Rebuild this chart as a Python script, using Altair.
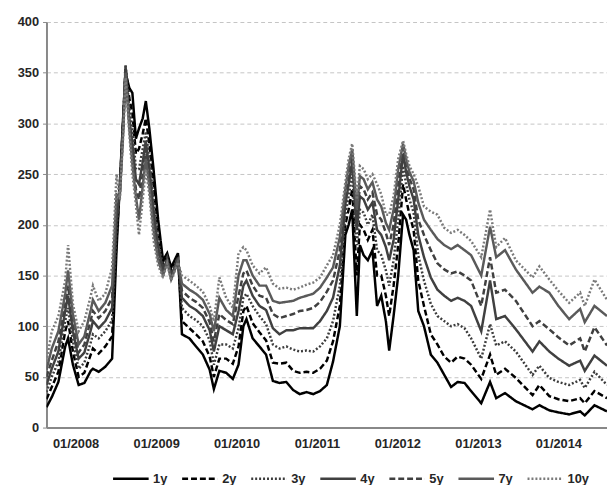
import altair as alt
import pandas as pd

dates = [
    "2007-08-22", "2007-09-15", "2007-10-15", "2007-11-15", "2007-11-28", "2007-12-20",
    "2008-01-15", "2008-02-10", "2008-03-10", "2008-03-20", "2008-04-15", "2008-05-15",
    "2008-06-15", "2008-07-05", "2008-07-20", "2008-08-05", "2008-08-15", "2008-09-01",
    "2008-09-15", "2008-10-01", "2008-10-15", "2008-11-01", "2008-11-15", "2008-12-01",
    "2008-12-20", "2009-01-10", "2009-02-01", "2009-02-20", "2009-03-10", "2009-04-10",
    "2009-04-28", "2009-06-01", "2009-07-01", "2009-08-01", "2009-09-01", "2009-09-20",
    "2009-10-15", "2009-11-15", "2009-12-15", "2010-01-10", "2010-02-01", "2010-02-15",
    "2010-03-15", "2010-04-15", "2010-05-15", "2010-06-15", "2010-07-15", "2010-08-15",
    "2010-09-15", "2010-10-15", "2010-11-15", "2010-12-15", "2011-01-15", "2011-02-15",
    "2011-03-15", "2011-04-15", "2011-05-10", "2011-05-25", "2011-06-10", "2011-07-01",
    "2011-07-15", "2011-08-01", "2011-08-20", "2011-09-10", "2011-10-01", "2011-10-20",
    "2011-11-10", "2011-11-25", "2011-12-15", "2012-01-05", "2012-01-27", "2012-02-10",
    "2012-02-25", "2012-03-15", "2012-04-05", "2012-05-01", "2012-06-01", "2012-07-01",
    "2012-08-01", "2012-09-01", "2012-10-01", "2012-11-01", "2012-12-01", "2013-01-16",
    "2013-02-25", "2013-03-25", "2013-05-04", "2013-06-22", "2013-09-06", "2013-10-07",
    "2013-11-21", "2014-01-01", "2014-02-19", "2014-04-10", "2014-05-01", "2014-06-14",
    "2014-08-10",
]

s1y = [20, 30, 45, 80, 88, 62, 42, 44, 56, 58, 55, 60, 68, 175, 240, 310, 350, 335, 330, 285,
       295, 305, 322, 295, 255, 205, 165, 172, 158, 172, 92, 88, 80, 72, 57, 38, 56, 54, 48, 62,
       100, 107, 88, 80, 72, 46, 44, 45, 37, 33, 35, 33, 36, 42, 65, 100, 190, 200, 215, 110,
       180, 170, 165, 175, 120, 130, 105, 76, 110, 150, 210, 205, 190, 175, 115, 100, 72, 64, 52, 40,
       45, 44, 36, 24, 45, 29, 34, 26, 18, 22, 17, 15, 13, 16, 12, 22, 16]
s2y = [28, 40, 55, 95, 105, 75, 50, 54, 72, 78, 73, 80, 90, 185, 238, 308, 355, 325, 310, 270,
       275, 290, 305, 280, 240, 195, 160, 170, 155, 170, 105, 98, 92, 85, 70, 50, 68, 68, 63, 80,
       115, 120, 103, 94, 86, 64, 63, 64, 56, 54, 55, 54, 58, 66, 85, 120, 200, 215, 235, 150,
       200, 195, 185, 195, 150, 150, 130, 110, 140, 180, 240, 225, 210, 195, 145, 120, 92, 82, 70, 64,
       70, 68, 62, 48, 72, 52, 58, 49, 32, 42, 31, 28, 26, 29, 24, 36, 29]
s3y = [35, 50, 65, 105, 118, 85, 58, 64, 84, 92, 88, 95, 106, 195, 235, 305, 358, 315, 295, 255,
       255, 275, 292, 265, 225, 185, 158, 168, 152, 168, 118, 110, 106, 100, 86, 62, 82, 82, 78, 98,
       128, 132, 120, 110, 102, 82, 78, 80, 77, 75, 76, 75, 80, 88, 105, 140, 210, 228, 250, 180,
       215, 212, 200, 210, 175, 170, 155, 140, 165, 205, 258, 240, 225, 212, 170, 145, 122, 110, 105, 100,
       102, 98, 88, 68, 102, 81, 85, 75, 52, 61, 49, 45, 42, 47, 39, 55, 42]
s4y = [42, 58, 75, 115, 130, 95, 68, 74, 96, 105, 98, 105, 118, 205, 232, 300, 356, 305, 280, 245,
       240, 262, 283, 255, 215, 178, 155, 166, 150, 166, 128, 120, 116, 110, 96, 75, 100, 96, 92, 115,
       140, 145, 130, 120, 116, 98, 92, 96, 96, 98, 98, 98, 105, 115, 128, 160, 220, 240, 262, 195,
       228, 225, 215, 222, 195, 190, 178, 165, 185, 225, 270, 252, 238, 225, 190, 168, 148, 136, 130, 125,
       128, 125, 120, 95, 145, 107, 110, 97, 75, 85, 75, 68, 61, 66, 56, 71, 61]
s5y = [50, 66, 85, 122, 140, 102, 74, 82, 106, 115, 108, 115, 128, 215, 230, 298, 354, 300, 270, 235,
       225, 250, 275, 245, 205, 172, 153, 165, 148, 165, 135, 128, 124, 118, 104, 85, 112, 106, 102, 130,
       152, 155, 140, 130, 128, 112, 108, 110, 112, 115, 116, 118, 124, 134, 145, 175, 228, 250, 270, 205,
       238, 235, 225, 232, 210, 205, 192, 180, 200, 240, 276, 260, 246, 235, 205, 190, 175, 162, 156, 152,
       154, 150, 145, 120, 168, 133, 136, 125, 100, 105, 97, 89, 81, 88, 75, 99, 81]
s7y = [57, 78, 95, 132, 155, 112, 82, 90, 116, 126, 115, 123, 140, 230, 228, 295, 350, 295, 260, 228,
       205, 238, 265, 238, 195, 165, 150, 163, 146, 164, 142, 136, 132, 126, 112, 95, 128, 116, 110, 150,
       165, 165, 150, 140, 140, 125, 123, 124, 125, 128, 130, 132, 138, 148, 158, 188, 235, 258, 275, 215,
       248, 245, 235, 242, 225, 218, 202, 195, 215, 255, 280, 265, 252, 243, 222, 205, 195, 186, 180, 176,
       180, 175, 170, 150, 198, 168, 175, 156, 133, 139, 133, 120, 107, 117, 104, 120, 110]
s10y = [65, 95, 110, 145, 180, 122, 95, 105, 130, 140, 125, 132, 158, 250, 225, 290, 345, 290, 250, 220,
        190, 225, 255, 230, 185, 160, 148, 162, 145, 163, 150, 145, 140, 134, 120, 105, 148, 128, 118, 172,
        178, 175, 160, 152, 158, 142, 137, 138, 136, 138, 141, 143, 148, 160, 170, 200, 242, 265, 280, 225,
        258, 255, 245, 250, 240, 230, 210, 210, 228, 265, 283, 270, 258, 250, 238, 218, 213, 210, 197, 192,
        195, 190, 184, 168, 215, 178, 187, 165, 148, 159, 146, 135, 123, 133, 120, 146, 126]

tenors = ["1y", "2y", "3y", "4y", "5y", "7y", "10y"]
series = [s1y, s2y, s3y, s4y, s5y, s7y, s10y]
colors = ["#000000", "#000000", "#3c3c3c", "#404040", "#404040", "#5a5a5a", "#7a7a7a"]
dashes = [[1, 0], [6, 3], [2, 2], [1, 0], [6, 3], [1, 0], [2, 2]]

rows = []
for t, vals in zip(tenors, series):
    for d, v in zip(dates, vals):
        rows.append({"date": d, "tenor": t, "value": v})
df = pd.DataFrame(rows)
df["date"] = pd.to_datetime(df["date"])

font = "Liberation Sans"
year_ticks = [alt.DateTime(year=y, month=1, date=1) for y in range(2008, 2015)]

legend = alt.Legend(
    title=None, orient="none", legendX=66, legendY=443, direction="horizontal",
    columns=7, symbolType="stroke", symbolSize=1300, symbolStrokeWidth=2.5,
    labelFont=font, labelFontSize=13, labelFontWeight="bold", labelColor="#262626",
    labelOffset=3, columnPadding=9,
)

chart = alt.Chart(df).mark_line(strokeWidth=2.5, clip=True).encode(
    x=alt.X(
        "date:T",
        scale=alt.Scale(domain=[alt.DateTime(year=2007, month=8, date=22),
                                alt.DateTime(year=2014, month=8, date=10)]),
        axis=alt.Axis(values=year_ticks, format="%m/%Y", title=None, grid=False,
                      ticks=False, labelPadding=10, domainColor="#888888",
                      domainWidth=2, labelFont=font, labelFontSize=13,
                      labelFontWeight="bold", labelColor="#262626"),
    ),
    y=alt.Y(
        "value:Q",
        scale=alt.Scale(domain=[0, 400], nice=False),
        axis=alt.Axis(values=list(range(0, 401, 50)), title=None, grid=True,
                      gridDash=[4, 3], gridColor="#c4c4c4", gridWidth=1,
                      tickSize=4, tickColor="#888888", labelPadding=4,
                      domainColor="#888888", domainWidth=2, labelFont=font,
                      labelFontSize=13, labelFontWeight="bold", labelColor="#262626"),
    ),
    color=alt.Color("tenor:N", scale=alt.Scale(domain=tenors, range=colors),
                    sort=tenors, legend=legend),
    strokeDash=alt.StrokeDash("tenor:N", scale=alt.Scale(domain=tenors, range=dashes),
                              sort=tenors, legend=legend),
    order=alt.Order("date:T"),
).properties(
    width=568, height=411,
    autosize=alt.AutoSizeParams(type="none"),
    padding={"left": 39, "top": 11, "right": 0, "bottom": 55},
).configure_view(stroke=None)

chart.save("out.html", embed_options={"renderer": "svg", "actions": False})
